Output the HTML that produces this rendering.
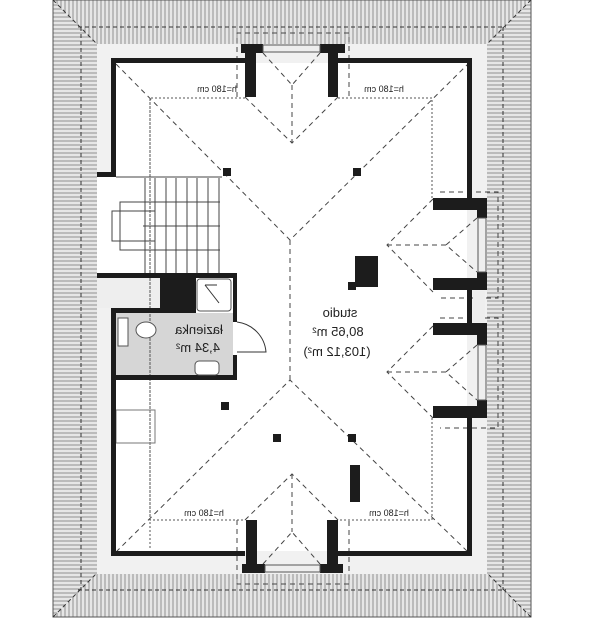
<!DOCTYPE html>
<html><head><style>html,body{margin:0;padding:0;background:#fff}svg{display:block}</style></head>
<body>
<svg width="600" height="618" viewBox="0 0 600 618" xmlns="http://www.w3.org/2000/svg" font-family="Liberation Sans, sans-serif">
<defs>
<pattern id="pv" width="4" height="10" patternUnits="userSpaceOnUse"><rect width="4" height="10" fill="#fff"/><line x1="1" y1="0" x2="1" y2="10" stroke="#777" stroke-width="1"/><line x1="3" y1="0" x2="3" y2="10" stroke="#ccc" stroke-width="1"/></pattern>
<pattern id="ph" width="10" height="4" patternUnits="userSpaceOnUse"><rect width="10" height="4" fill="#fff"/><line x1="0" y1="1" x2="10" y2="1" stroke="#777" stroke-width="1"/><line x1="0" y1="3" x2="10" y2="3" stroke="#ccc" stroke-width="1"/></pattern>
</defs>
<!-- roof -->
<polygon points="53,0 531,0 487,44 97,44" fill="url(#pv)"/>
<polygon points="53,574 97,574 487,574 531,617 53,617" fill="url(#pv)"/>
<polygon points="53,0 97,44 97,574 53,617" fill="url(#ph)"/>
<polygon points="531,0 531,617 487,574 487,44" fill="url(#ph)"/>
<polygon points="53,0 531,0 531,617 53,617" fill="none" stroke="#555" stroke-width="1"/>
<g stroke="#333" stroke-width="1" stroke-dasharray="4,3" fill="none">
<line x1="53" y1="0" x2="115" y2="62"/><line x1="531" y1="0" x2="469" y2="62"/>
<line x1="53" y1="617" x2="115" y2="555"/><line x1="531" y1="617" x2="469" y2="555"/>
<line x1="78" y1="27" x2="506" y2="27"/><line x1="78" y1="590" x2="506" y2="590"/>
<line x1="81" y1="27" x2="81" y2="590"/><line x1="503" y1="27" x2="503" y2="590"/>
</g>
<!-- eave strip -->
<rect x="97" y="44" width="390" height="530" fill="#f1f1f1"/>
<rect x="116" y="63" width="351" height="488" fill="#fff"/>
<rect x="97" y="176" width="19" height="97" fill="#fff"/>
<rect x="97" y="278" width="63" height="30" fill="#eee"/>
<rect x="116" y="313" width="117" height="62" fill="#d6d6d6"/>
<rect x="116" y="380" width="2" height="171" fill="#fff"/>
<!-- dashed roof hips -->
<g stroke="#444" stroke-width="1" stroke-dasharray="5,4" fill="none">
<polyline points="116,64 290,240 468,64"/>
<polyline points="116,552 290,380 468,552"/>
<line x1="290" y1="240" x2="290" y2="380"/>
<polyline points="263,53 292,85 320,53"/>
<polyline points="245,97 292,143 338,97"/>
<line x1="292" y1="85" x2="292" y2="143"/>
<polyline points="263,564 292,532 320,564"/>
<polyline points="245,520 292,474 338,520"/>
<line x1="292" y1="474" x2="292" y2="532"/>
<polyline points="237,97 237,33 349,33 349,97"/>
<polyline points="237,520 237,584 349,584 349,520"/>
<polyline points="433,199 387,245 433,292"/><polyline points="477,218 446,245 477,272"/><line x1="387" y1="245" x2="446" y2="245"/>
<polyline points="440,192 498,192 498,298 440,298"/>
<polyline points="433,326 387,372 433,418"/><polyline points="477,345 446,372 477,400"/><line x1="387" y1="372" x2="446" y2="372"/>
<polyline points="440,318 498,318 498,428 440,428"/>
</g>
<g stroke="#555" stroke-width="1" stroke-dasharray="2,2" fill="none">
<polyline points="245,98 150,98 150,520 245,520"/>
<polyline points="338,98 432,98 432,198"/>
<polyline points="432,418 432,520 338,520"/>
<line x1="150" y1="98" x2="150" y2="550"/>
</g>
<!-- stairs -->
<g stroke="#444" stroke-width="1" fill="none">
<line x1="116" y1="177" x2="222" y2="177"/>
<line x1="145" y1="178" x2="145" y2="273"/><line x1="155" y1="178" x2="155" y2="273"/><line x1="166" y1="178" x2="166" y2="273"/><line x1="176" y1="178" x2="176" y2="273"/><line x1="187" y1="178" x2="187" y2="273"/><line x1="197" y1="178" x2="197" y2="273"/><line x1="208" y1="178" x2="208" y2="273"/><line x1="219" y1="178" x2="219" y2="273"/>
<line x1="120" y1="202" x2="220" y2="202"/><line x1="143" y1="226" x2="220" y2="226"/><line x1="120" y1="250" x2="220" y2="250"/>
<rect x="120" y="202" width="35" height="48"/><rect x="112" y="211" width="43" height="30"/>
<rect x="116" y="410" width="39" height="33" stroke="#777"/>
</g>
<!-- walls -->
<g fill="#1c1c1c">
<rect x="111" y="58" width="134" height="5"/><rect x="111" y="58" width="5" height="118"/><rect x="97" y="172" width="19" height="5"/>
<rect x="241" y="44" width="22" height="9"/><rect x="245" y="44" width="11" height="53"/>
<rect x="320" y="44" width="25" height="9"/><rect x="328" y="44" width="10" height="53"/>
<rect x="338" y="58" width="134" height="5"/><rect x="467" y="58" width="5" height="142"/>
<rect x="433" y="198" width="53" height="12"/><rect x="477" y="198" width="10" height="20"/>
<rect x="433" y="278" width="54" height="12"/><rect x="477" y="272" width="10" height="18"/>
<rect x="467" y="290" width="5" height="33"/>
<rect x="433" y="323" width="54" height="12"/><rect x="477" y="323" width="10" height="22"/>
<rect x="433" y="406" width="54" height="12"/><rect x="477" y="400" width="10" height="18"/>
<rect x="467" y="418" width="5" height="138"/>
<rect x="111" y="551" width="134" height="5"/><rect x="338" y="551" width="134" height="5"/>
<rect x="242" y="564" width="23" height="9"/><rect x="246" y="520" width="11" height="53"/>
<rect x="320" y="564" width="23" height="9"/><rect x="327" y="520" width="11" height="53"/>
<rect x="97" y="273" width="140" height="5"/><rect x="233" y="273" width="4" height="49"/><rect x="233" y="355" width="4" height="25"/>
<rect x="111" y="375" width="126" height="5"/><rect x="111" y="308" width="5" height="248"/><rect x="111" y="308" width="49" height="5"/>
<rect x="160" y="273" width="36" height="40"/>
<rect x="223" y="168" width="8" height="8"/><rect x="353" y="168" width="8" height="8"/>
<rect x="221" y="402" width="8" height="8"/><rect x="273" y="434" width="8" height="8"/><rect x="348" y="434" width="8" height="8"/>
<rect x="350" y="465" width="10" height="37"/>
<rect x="355" y="256" width="23" height="31"/><rect x="348" y="282" width="8" height="8"/>
</g>
<!-- windows -->
<g fill="#eee" stroke="#555" stroke-width="1">
<rect x="263" y="45" width="57" height="7"/><rect x="265" y="565" width="55" height="7"/>
<rect x="478" y="218" width="8" height="54"/><rect x="478" y="345" width="8" height="55"/>
<rect x="473" y="291" width="12" height="31" stroke="none"/>
<rect x="197" y="279" width="34" height="32" rx="3" fill="#fff"/>
<rect x="118" y="318" width="10" height="28" fill="#fff"/><ellipse cx="146" cy="330" rx="10" ry="8" fill="#fff"/>
<rect x="195" y="361" width="24" height="14" rx="4" fill="#fff"/>
</g>
<path d="M237,322 A33,33 0 0 1 266,352 L237,352" fill="none" stroke="#333" stroke-width="1"/>
<line x1="205" y1="285" x2="219" y2="303" stroke="#333"/><line x1="205" y1="285" x2="217" y2="285" stroke="#333"/>
<!-- text (mirrored) -->
<g font-size="9" fill="#222">
<text transform="scale(-1,1)" x="-217" y="92" text-anchor="middle">h=180 cm</text>
<text transform="scale(-1,1)" x="-384" y="92" text-anchor="middle">h=180 cm</text>
<text transform="scale(-1,1)" x="-204" y="516" text-anchor="middle">h=180 cm</text>
<text transform="scale(-1,1)" x="-389" y="516" text-anchor="middle">h=180 cm</text>
</g>
<g font-size="13" fill="#222" text-anchor="middle">
<text transform="scale(-1,1)" x="-340" y="317">studio</text>
<text transform="scale(-1,1)" x="-338" y="336">80,65 m²</text>
<text transform="scale(-1,1)" x="-337" y="356">(103,12 m²)</text>
<text transform="scale(-1,1)" x="-199" y="334">łazienka</text>
<text transform="scale(-1,1)" x="-198" y="352">4,34 m²</text>
</g>
</svg>
</body></html>
